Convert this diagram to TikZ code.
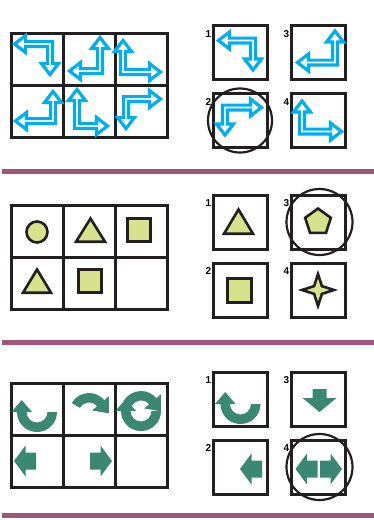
\documentclass[tikz,border=0pt]{standalone}
\usepackage{fontspec}
\setmainfont{Liberation Sans}
\usepackage{xcolor}
\usepackage{tikz}
\usetikzlibrary{positioning}
\definecolor{lineblack}{RGB}{35, 31, 32}
\definecolor{arrowcyan}{RGB}{0, 174, 239}
\definecolor{shapelime}{RGB}{214, 227, 140}
\definecolor{shapeteal}{RGB}{58, 135, 115}
\definecolor{rulemauve}{RGB}{160, 85, 122}

\newcommand{\bentarrow}[6]{%
  \draw[cyanarrow, shift={(#1.center)}, shift={#2}, rotate=#3, yscale=#4]
    (-2.4,-2.4) -- (#5-11,-2.4) -- (#5-11,-8.5) -- (#5,0) -- (#5-11,8.5) -- (#5-11,2.4)
    -- (2.4,2.4) -- (2.4,#6-11) -- (8.5,#6-11) -- (0,#6) -- (-8.5,#6-11) -- (-2.4,#6-11) -- cycle;}
\newcommand{\blockarrow}[3]{%
  \fill[tealshape, shift={(#1.center)}, shift={#2}, rotate=#3]
    (0,0) -- (-11.5,15.5) -- (-11.5,8.5) -- (-22,8.5) -- (-22,-8.5) -- (-11.5,-8.5) -- (-11.5,-15.5) -- cycle;}
\newcommand{\lowarc}[2]{%
  \fill[tealshape, shift={(#1.center)}, shift={#2}]
    (20,0) arc[start angle=0, end angle=-180, radius=20]
    -- (-25.5,0) -- (-15.25,12) -- (-5,0) -- (-10.5,0)
    arc[start angle=180, end angle=360, radius=10.5] -- cycle;}
\newcommand{\uparc}[2]{%
  \fill[tealshape, shift={(#1.center)}, shift={#2}]
    (150:20) arc[start angle=150, end angle=40, radius=20]
    -- (40:26) -- (19.8,-0.3) -- (40:4) -- (40:10.5)
    arc[start angle=40, end angle=150, radius=10.5] -- cycle;}

\begin{document}
\begin{tikzpicture}[
    x=1pt, y=1pt,
    cell/.style={rectangle, draw=lineblack, line width=3pt, minimum size=52pt, inner sep=0pt, outer sep=0pt},
    optbox/.style={cell, minimum size=54pt},
    numlabel/.style={font=\fontsize{10}{10}\selectfont\bfseries, inner sep=0pt, anchor=north east},
    ansring/.style={draw=lineblack, line width=2.2pt},
    cyanarrow/.style={draw=arrowcyan, fill=white, line width=3.2pt, line join=miter},
    limeshape/.style={draw=lineblack, fill=shapelime, line width=2.6pt, line join=miter},
    tealshape/.style={fill=shapeteal},
    divider/.style={draw=rulemauve, line width=5pt}
]
    \useasboundingbox (0,0) rectangle (374,-520);

    \node[cell] (ga11) at (37,-59) {};
    \node[cell, right=0pt of ga11] (ga12) {};
    \node[cell, right=0pt of ga12] (ga13) {};
    \node[cell, below=0pt of ga11] (ga21) {};
    \node[cell, right=0pt of ga21] (ga22) {};
    \node[cell, right=0pt of ga22] (ga23) {};
    \node[optbox] (oa1) at (240,-52.5) {};
    \node[optbox, right=24pt of oa1] (oa3) {};
    \node[optbox, below=14pt of oa1] (oa2) {};
    \node[optbox, right=24pt of oa2] (oa4) {};
    \node[numlabel] (na1) at ([xshift=-1.5pt, yshift=-4.5pt]oa1.north west) {1};
    \node[numlabel] (na2) at ([xshift=-1.5pt, yshift=-4.5pt]oa2.north west) {2};
    \node[numlabel] (na3) at ([xshift=-1.5pt, yshift=-4.5pt]oa3.north west) {3};
    \node[numlabel] (na4) at ([xshift=-1.5pt, yshift=-4.5pt]oa4.north west) {4};

    \bentarrow{ga11}{(13,15)}{180}{1}{35.5}{30.5}
    \bentarrow{ga12}{(11,-12)}{90}{1}{33.5}{30.5}
    \bentarrow{ga13}{(-18,-13)}{90}{-1}{31.5}{37.5}
    \bentarrow{ga21}{(16,-10)}{90}{1}{29.5}{37.5}
    \bentarrow{ga22}{(-12,-15)}{90}{-1}{36.5}{30.5}
    \bentarrow{ga23}{(-15,12)}{0}{-1}{34.5}{29.5}
    \bentarrow{oa1}{(13,12)}{180}{1}{34.5}{29.5}
    \bentarrow{oa3}{(17,-10)}{90}{1}{31.5}{37.5}
    \bentarrow{oa2}{(-15,13)}{0}{-1}{36.5}{27.5}
    \bentarrow{oa4}{(-16,-11)}{90}{-1}{30.5}{39.5}
    \draw[ansring] (oa2.center) circle (32);

    \draw[divider] (2,-171.5) -- (374,-171.5);

    \node[cell] (gb11) at (37,-231) {};
    \node[cell, right=0pt of gb11] (gb12) {};
    \node[cell, right=0pt of gb12] (gb13) {};
    \node[cell, below=0pt of gb11] (gb21) {};
    \node[cell, right=0pt of gb21] (gb22) {};
    \node[cell, right=0pt of gb22] (gb23) {};
    \node[optbox] (ob1) at (240,-222) {};
    \node[optbox, right=24pt of ob1] (ob3) {};
    \node[optbox, below=14pt of ob1] (ob2) {};
    \node[optbox, right=24pt of ob2] (ob4) {};
    \node[numlabel] (nb1) at ([xshift=-1.5pt, yshift=-4.5pt]ob1.north west) {1};
    \node[numlabel] (nb2) at ([xshift=-1.5pt, yshift=-4.5pt]ob2.north west) {2};
    \node[numlabel] (nb3) at ([xshift=-1.5pt, yshift=-4.5pt]ob3.north west) {3};
    \node[numlabel] (nb4) at ([xshift=-1.5pt, yshift=-4.5pt]ob4.north west) {4};

    \draw[limeshape] ([yshift=-1pt]gb11.center) circle (10.5);
    \draw[limeshape, shift={(gb12.center)}] (1.5,12.5) -- (-13,-10.75) -- (16,-10.75) -- cycle;
    \draw[limeshape, shift={(gb13.center)}] (-13.75,12.75) rectangle (9.75,-10.75);
    \draw[limeshape, shift={(gb21.center)}] (0,13.5) -- (-14,-9.75) -- (14,-9.75) -- cycle;
    \draw[limeshape, shift={(gb22.center)}] (-10.75,13.75) rectangle (12.75,-9.75);
    \draw[limeshape, shift={(ob1.center)}] (-1.5,12.5) -- (-16,-11.75) -- (13,-11.75) -- cycle;
    \draw[limeshape, shift={(ob2.center)}] (-12.75,11.75) rectangle (11.75,-12.75);
    \draw[limeshape, shift={(ob3.center)}] (90:13.5) -- (162:13.5) -- (234:13.5) -- (306:13.5) -- (18:13.5) -- cycle;
    \draw[limeshape, shift={(ob4.center)}] (0:16) -- (45:5.5) -- (90:16) -- (135:5.5) -- (180:16)
        -- (225:5.5) -- (270:16) -- (315:5.5) -- cycle;
    \draw[ansring] ([xshift=1.5pt]ob3.center) circle (33);

    \draw[divider] (2,-342.5) -- (374,-342.5);

    \node[cell] (gc11) at (37,-409) {};
    \node[cell, right=0pt of gc11] (gc12) {};
    \node[cell, right=0pt of gc12] (gc13) {};
    \node[cell, below=0pt of gc11] (gc21) {};
    \node[cell, right=0pt of gc21] (gc22) {};
    \node[cell, right=0pt of gc22] (gc23) {};
    \node[optbox] (oc1) at (240,-399) {};
    \node[optbox, right=24pt of oc1] (oc3) {};
    \node[optbox, below=14pt of oc1] (oc2) {};
    \node[optbox, right=24pt of oc2] (oc4) {};
    \node[numlabel] (nc1) at ([xshift=-1.5pt, yshift=-4.5pt]oc1.north west) {1};
    \node[numlabel] (nc2) at ([xshift=-1.5pt, yshift=-4.5pt]oc2.north west) {2};
    \node[numlabel] (nc3) at ([xshift=-1.5pt, yshift=-4.5pt]oc3.north west) {3};
    \node[numlabel] (nc4) at ([xshift=-1.5pt, yshift=-4.5pt]oc4.north west) {4};

    \lowarc{gc11}{(0,-3)}
    \uparc{gc12}{(0,-4)}
    \lowarc{gc13}{(0,-2)}
    \uparc{gc13}{(0,-2)}
    \blockarrow{gc21}{(-23,0)}{180}
    \blockarrow{gc22}{(23,0)}{0}
    \lowarc{oc1}{(0.5,-5)}
    \blockarrow{oc2}{(0,-2)}{180}
    \fill[tealshape, shift={(oc3.center)}] (1.5,-13) -- (-15.5,1) -- (-5.5,1) -- (-5.5,10) -- (8.5,10) -- (8.5,1) -- (18.5,1) -- cycle;
    \blockarrow{oc4}{(-22.5,-2)}{180}
    \blockarrow{oc4}{(24,-2)}{0}
    \draw[ansring] ([xshift=1.5pt]oc4.center) circle (33);

    \draw[divider] (2,-515.5) -- (374,-515.5);
\end{tikzpicture}
\end{document}
